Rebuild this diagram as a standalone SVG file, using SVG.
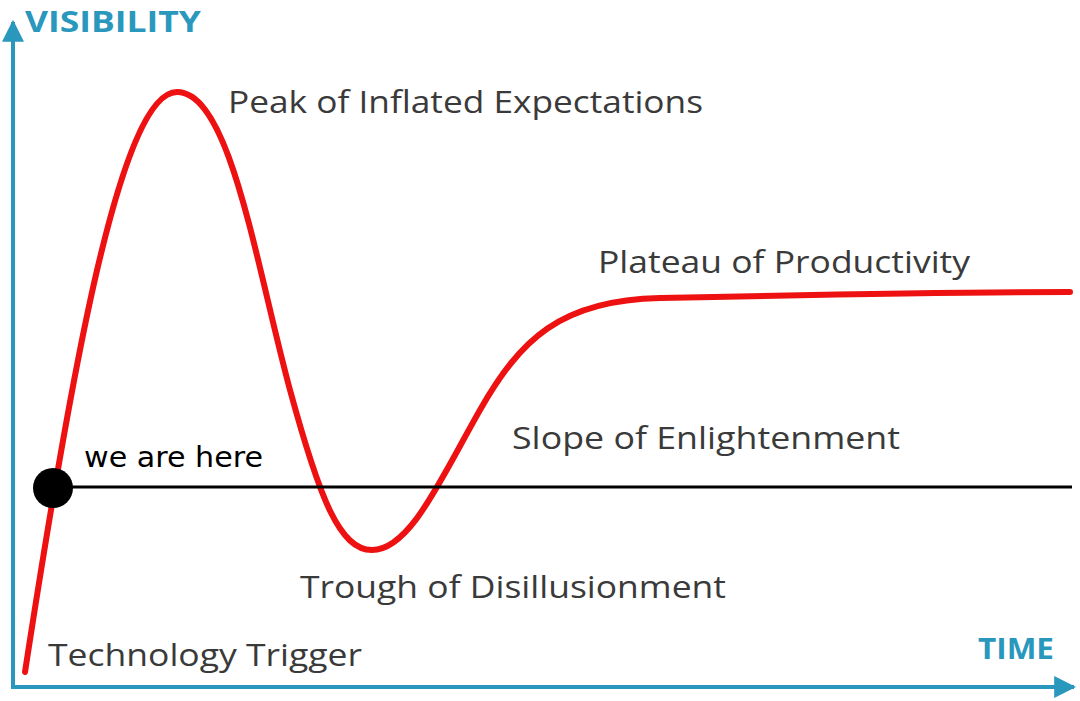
<svg xmlns="http://www.w3.org/2000/svg" width="1080" height="701" viewBox="0 0 1080 701">
<style>
.lbl{font-family:"Open Sans","Noto Sans",sans-serif;font-size:31px;fill:#3a3a3a}
.ax{font-family:"Open Sans","Noto Sans",sans-serif;font-weight:bold;fill:#2a97bd}
.axis{stroke:#2a97bd;stroke-width:4;fill:none}
</style>
<defs>
<marker id="arr" viewBox="0 0 10 10" refX="9" refY="5" markerWidth="5.5" markerHeight="5.5" orient="auto" markerUnits="strokeWidth">
<path d="M0,0 L10,5 L0,10 z" fill="#2a97bd"/>
</marker>
</defs>
<rect width="1080" height="701" fill="#ffffff"/>
<g id="axes">
<path class="axis" d="M13,687 L13,22" marker-end="url(#arr)"/>
<path class="axis" d="M11,687 L1074,687" marker-end="url(#arr)"/>
<text class="ax" x="25" y="32" font-size="29" textLength="176" lengthAdjust="spacingAndGlyphs">VISIBILITY</text>
<text class="ax" x="978" y="659" font-size="28" textLength="76" lengthAdjust="spacingAndGlyphs">TIME</text>
</g>
<g id="curve">
<path d="M25,672 C70,380 120,92 177,92 C230,92 255,260 290,390 C320,500 340,550 372,550 C410,550 440,480 480,410 C520,340 560,300 660,298 C800,295 950,292 1070,292" fill="none" stroke="#ee1111" stroke-width="6" stroke-linecap="round"/>
</g>
<g id="labels">
<text class="lbl" x="228" y="113" textLength="475" lengthAdjust="spacingAndGlyphs">Peak of Inflated Expectations</text>
<text class="lbl" x="598" y="273" textLength="372" lengthAdjust="spacingAndGlyphs">Plateau of Productivity</text>
<text class="lbl" x="512" y="449" textLength="388" lengthAdjust="spacingAndGlyphs">Slope of Enlightenment</text>
<text class="lbl" x="300" y="598" textLength="426" lengthAdjust="spacingAndGlyphs">Trough of Disillusionment</text>
<text class="lbl" x="48" y="666" textLength="314" lengthAdjust="spacingAndGlyphs">Technology Trigger</text>
</g>
<g id="marker-here">
<line x1="53" y1="487" x2="1072" y2="487" stroke="#000" stroke-width="3"/>
<circle cx="53" cy="488" r="20" fill="#000"/>
<text x="84" y="467" font-family="DejaVu Sans,sans-serif" font-size="28" fill="#000" textLength="179" lengthAdjust="spacingAndGlyphs">we are here</text>
</g>
</svg>
